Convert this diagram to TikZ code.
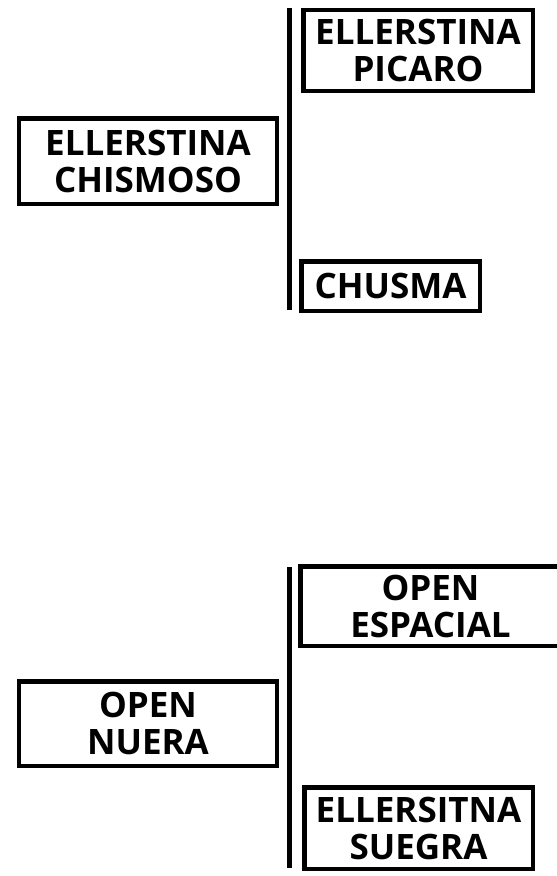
\documentclass[tikz,border=0pt]{standalone}
\usepackage{fontspec}
\setmainfont{Open Sans}[BoldFont={* Bold}]
\begin{document}
\begin{tikzpicture}[x=1bp,y=-1bp,
  box/.style={draw=black,line width=4.5bp,rectangle,inner sep=0pt,align=center,
    font=\bfseries\fontsize{35bp}{37bp}\selectfont},
  stem/.style={line width=5bp}]
\useasboundingbox (0,0) rectangle (557,876);
% top group
\node[box,minimum width=257.5bp,minimum height=85.5bp] (chismoso) at (148,161) {ELLERSTINA\\CHISMOSO};
\node[box,minimum width=229.5bp,minimum height=80.5bp] (picaro) at (418,50.5) {ELLERSTINA\\PICARO};
\node[box,minimum width=178.5bp,minimum height=49.5bp] (chusma) at (390.5,286) {CHUSMA};
\coordinate (t1) at (289.5,8);
\coordinate (t2) at (289.5,310);
\draw[stem] (t1) -- (t2);
% bottom group
\node[box,minimum width=257.5bp,minimum height=84.5bp] (nuera) at (148,723.5) {OPEN\\NUERA};
\node[box,minimum width=260.5bp,minimum height=79.5bp] (espacial) at (430.5,606) {OPEN\\ESPACIAL};
\node[box,minimum width=228.5bp,minimum height=81.5bp] (suegra) at (418.5,828) {ELLERSITNA\\SUEGRA};
\coordinate (b1) at (289,567);
\coordinate (b2) at (289,868);
\draw[stem] (b1) -- (b2);
\end{tikzpicture}
\end{document}
